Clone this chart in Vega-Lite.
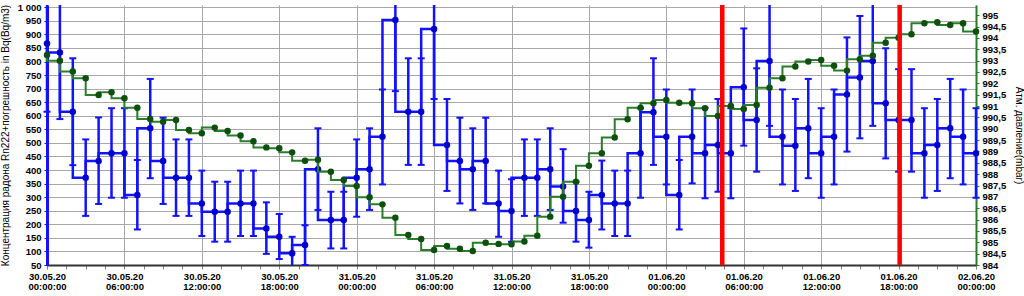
{
  "$schema": "https://vega.github.io/schema/vega-lite/v6.json",
  "width": 929,
  "height": 260,
  "autosize": {"type": "none"},
  "padding": {"left": 47, "top": 5, "right": 48, "bottom": 31},
  "background": "white",
  "config": {
    "font": "Liberation Sans",
    "view": {"stroke": null},
    "axisLeft": {
      "labelFont": "Liberation Sans",
      "labelFontWeight": "bold",
      "labelFontSize": 9.5,
      "labelColor": "#000000",
      "labelPadding": 3,
      "labelOverlap": false,
      "labelBound": false,
      "labelFlush": false,
      "tickSize": 3,
      "tickColor": "#1212ff",
      "tickWidth": 1,
      "domainColor": "#1212ff",
      "domainWidth": 3,
      "grid": true,
      "gridColor": "#a8a8a8",
      "gridWidth": 1,
      "titleFont": "Liberation Sans",
      "titleFontWeight": "normal",
      "titleFontSize": 10,
      "titleColor": "#000000",
      "titleAngle": 270,
      "titleX": -42,
      "titleY": 130,
      "titleAlign": "center",
      "titleBaseline": "middle"
    }
  },
  "datasets": {
    "radon": [
      {"t": "2020-05-30T00:00", "v": 867, "lo": 615, "hi": 1119},
      {"t": "2020-05-30T01:00", "v": 833, "lo": 588, "hi": 1078},
      {"t": "2020-05-30T02:00", "v": 615, "lo": 418, "hi": 812},
      {"t": "2020-05-30T03:00", "v": 372, "lo": 231, "hi": 513},
      {"t": "2020-05-30T04:00", "v": 433, "lo": 275, "hi": 594},
      {"t": "2020-05-30T05:00", "v": 462, "lo": 298, "hi": 628},
      {"t": "2020-05-30T06:00", "v": 462, "lo": 298, "hi": 628},
      {"t": "2020-05-30T07:00", "v": 308, "lo": 181, "hi": 437},
      {"t": "2020-05-30T08:00", "v": 554, "lo": 370, "hi": 736},
      {"t": "2020-05-30T09:00", "v": 433, "lo": 275, "hi": 593},
      {"t": "2020-05-30T10:00", "v": 372, "lo": 231, "hi": 513},
      {"t": "2020-05-30T11:00", "v": 372, "lo": 231, "hi": 513},
      {"t": "2020-05-30T12:00", "v": 277, "lo": 157, "hi": 398},
      {"t": "2020-05-30T13:00", "v": 246, "lo": 136, "hi": 357},
      {"t": "2020-05-30T14:00", "v": 246, "lo": 136, "hi": 357},
      {"t": "2020-05-30T15:00", "v": 277, "lo": 157, "hi": 398},
      {"t": "2020-05-30T16:00", "v": 277, "lo": 157, "hi": 398},
      {"t": "2020-05-30T17:00", "v": 185, "lo": 91, "hi": 281},
      {"t": "2020-05-30T18:00", "v": 154, "lo": 72, "hi": 238},
      {"t": "2020-05-30T19:00", "v": 93, "lo": 31, "hi": 154},
      {"t": "2020-05-30T20:00", "v": 124, "lo": 50, "hi": 197},
      {"t": "2020-05-30T21:00", "v": 403, "lo": 253, "hi": 554},
      {"t": "2020-05-30T22:00", "v": 216, "lo": 111, "hi": 320},
      {"t": "2020-05-30T23:00", "v": 216, "lo": 111, "hi": 320},
      {"t": "2020-05-31T00:00", "v": 372, "lo": 228, "hi": 513},
      {"t": "2020-05-31T01:00", "v": 403, "lo": 253, "hi": 554},
      {"t": "2020-05-31T02:00", "v": 523, "lo": 347, "hi": 697},
      {"t": "2020-05-31T03:00", "v": 953, "lo": 691, "hi": 1215},
      {"t": "2020-05-31T04:00", "v": 615, "lo": 419, "hi": 812},
      {"t": "2020-05-31T05:00", "v": 615, "lo": 419, "hi": 812},
      {"t": "2020-05-31T06:00", "v": 920, "lo": 662, "hi": 1178},
      {"t": "2020-05-31T07:00", "v": 492, "lo": 323, "hi": 662},
      {"t": "2020-05-31T08:00", "v": 433, "lo": 277, "hi": 593},
      {"t": "2020-05-31T09:00", "v": 403, "lo": 253, "hi": 554},
      {"t": "2020-05-31T10:00", "v": 433, "lo": 277, "hi": 593},
      {"t": "2020-05-31T11:00", "v": 277, "lo": 154, "hi": 398},
      {"t": "2020-05-31T12:00", "v": 249, "lo": 136, "hi": 366},
      {"t": "2020-05-31T13:00", "v": 372, "lo": 231, "hi": 513},
      {"t": "2020-05-31T14:00", "v": 372, "lo": 231, "hi": 513},
      {"t": "2020-05-31T15:00", "v": 403, "lo": 253, "hi": 554},
      {"t": "2020-05-31T16:00", "v": 339, "lo": 206, "hi": 477},
      {"t": "2020-05-31T17:00", "v": 249, "lo": 136, "hi": 357},
      {"t": "2020-05-31T18:00", "v": 216, "lo": 114, "hi": 320},
      {"t": "2020-05-31T19:00", "v": 308, "lo": 181, "hi": 435},
      {"t": "2020-05-31T20:00", "v": 277, "lo": 157, "hi": 398},
      {"t": "2020-05-31T21:00", "v": 277, "lo": 157, "hi": 398},
      {"t": "2020-05-31T22:00", "v": 462, "lo": 298, "hi": 628},
      {"t": "2020-05-31T23:00", "v": 613, "lo": 419, "hi": 812},
      {"t": "2020-06-01T00:00", "v": 523, "lo": 347, "hi": 697},
      {"t": "2020-06-01T01:00", "v": 308, "lo": 181, "hi": 437},
      {"t": "2020-06-01T02:00", "v": 523, "lo": 351, "hi": 697},
      {"t": "2020-06-01T03:00", "v": 462, "lo": 296, "hi": 630},
      {"t": "2020-06-01T04:00", "v": 492, "lo": 320, "hi": 662},
      {"t": "2020-06-01T05:00", "v": 462, "lo": 296, "hi": 628},
      {"t": "2020-06-01T06:00", "v": 705, "lo": 490, "hi": 922},
      {"t": "2020-06-01T07:00", "v": 585, "lo": 394, "hi": 775},
      {"t": "2020-06-01T08:00", "v": 802, "lo": 563, "hi": 1042},
      {"t": "2020-06-01T09:00", "v": 523, "lo": 347, "hi": 697},
      {"t": "2020-06-01T10:00", "v": 490, "lo": 323, "hi": 662},
      {"t": "2020-06-01T11:00", "v": 554, "lo": 370, "hi": 736},
      {"t": "2020-06-01T12:00", "v": 462, "lo": 298, "hi": 628},
      {"t": "2020-06-01T13:00", "v": 523, "lo": 347, "hi": 697},
      {"t": "2020-06-01T14:00", "v": 679, "lo": 468, "hi": 889},
      {"t": "2020-06-01T15:00", "v": 741, "lo": 517, "hi": 968},
      {"t": "2020-06-01T16:00", "v": 802, "lo": 563, "hi": 1042},
      {"t": "2020-06-01T17:00", "v": 646, "lo": 443, "hi": 849},
      {"t": "2020-06-01T18:00", "v": 585, "lo": 394, "hi": 772},
      {"t": "2020-06-01T19:00", "v": 585, "lo": 394, "hi": 772},
      {"t": "2020-06-01T20:00", "v": 462, "lo": 298, "hi": 628},
      {"t": "2020-06-01T21:00", "v": 492, "lo": 323, "hi": 662},
      {"t": "2020-06-01T22:00", "v": 554, "lo": 370, "hi": 736},
      {"t": "2020-06-01T23:00", "v": 523, "lo": 347, "hi": 697},
      {"t": "2020-06-02T00:00", "v": 462, "lo": 298, "hi": 628}
    ],
    "pressure": [
      {"t": "2020-05-30T00:00", "p": 993.25},
      {"t": "2020-05-30T01:00", "p": 993.0},
      {"t": "2020-05-30T02:00", "p": 992.52},
      {"t": "2020-05-30T03:00", "p": 992.22},
      {"t": "2020-05-30T04:00", "p": 991.49},
      {"t": "2020-05-30T05:00", "p": 991.61},
      {"t": "2020-05-30T06:00", "p": 991.34},
      {"t": "2020-05-30T07:00", "p": 990.93},
      {"t": "2020-05-30T08:00", "p": 990.43},
      {"t": "2020-05-30T09:00", "p": 990.31},
      {"t": "2020-05-30T10:00", "p": 990.39},
      {"t": "2020-05-30T11:00", "p": 989.95},
      {"t": "2020-05-30T12:00", "p": 989.80},
      {"t": "2020-05-30T13:00", "p": 990.05},
      {"t": "2020-05-30T14:00", "p": 989.90},
      {"t": "2020-05-30T15:00", "p": 989.70},
      {"t": "2020-05-30T16:00", "p": 989.45},
      {"t": "2020-05-30T17:00", "p": 989.18},
      {"t": "2020-05-30T18:00", "p": 989.14},
      {"t": "2020-05-30T19:00", "p": 988.96},
      {"t": "2020-05-30T20:00", "p": 988.59},
      {"t": "2020-05-30T21:00", "p": 988.63},
      {"t": "2020-05-30T22:00", "p": 988.11},
      {"t": "2020-05-30T23:00", "p": 987.74},
      {"t": "2020-05-31T00:00", "p": 987.48},
      {"t": "2020-05-31T01:00", "p": 986.98},
      {"t": "2020-05-31T02:00", "p": 986.67},
      {"t": "2020-05-31T03:00", "p": 986.08},
      {"t": "2020-05-31T04:00", "p": 985.32},
      {"t": "2020-05-31T05:00", "p": 985.15},
      {"t": "2020-05-31T06:00", "p": 984.66},
      {"t": "2020-05-31T07:00", "p": 984.84},
      {"t": "2020-05-31T08:00", "p": 984.72},
      {"t": "2020-05-31T09:00", "p": 984.62},
      {"t": "2020-05-31T10:00", "p": 984.98},
      {"t": "2020-05-31T11:00", "p": 984.93},
      {"t": "2020-05-31T12:00", "p": 984.91},
      {"t": "2020-05-31T13:00", "p": 985.03},
      {"t": "2020-05-31T14:00", "p": 985.29},
      {"t": "2020-05-31T15:00", "p": 986.13},
      {"t": "2020-05-31T16:00", "p": 987.01},
      {"t": "2020-05-31T17:00", "p": 987.67},
      {"t": "2020-05-31T18:00", "p": 988.37},
      {"t": "2020-05-31T19:00", "p": 988.92},
      {"t": "2020-05-31T20:00", "p": 989.61},
      {"t": "2020-05-31T21:00", "p": 990.42},
      {"t": "2020-05-31T22:00", "p": 990.93},
      {"t": "2020-05-31T23:00", "p": 991.12},
      {"t": "2020-06-01T00:00", "p": 991.27},
      {"t": "2020-06-01T01:00", "p": 991.15},
      {"t": "2020-06-01T02:00", "p": 991.12},
      {"t": "2020-06-01T03:00", "p": 990.90},
      {"t": "2020-06-01T04:00", "p": 990.56},
      {"t": "2020-06-01T05:00", "p": 991.00},
      {"t": "2020-06-01T06:00", "p": 990.87},
      {"t": "2020-06-01T07:00", "p": 991.05},
      {"t": "2020-06-01T08:00", "p": 991.81},
      {"t": "2020-06-01T09:00", "p": 992.22},
      {"t": "2020-06-01T10:00", "p": 992.74},
      {"t": "2020-06-01T11:00", "p": 992.96},
      {"t": "2020-06-01T12:00", "p": 993.03},
      {"t": "2020-06-01T13:00", "p": 992.78},
      {"t": "2020-06-01T14:00", "p": 992.56},
      {"t": "2020-06-01T15:00", "p": 993.06},
      {"t": "2020-06-01T16:00", "p": 993.21},
      {"t": "2020-06-01T17:00", "p": 993.79},
      {"t": "2020-06-01T18:00", "p": 994.01},
      {"t": "2020-06-01T19:00", "p": 994.16},
      {"t": "2020-06-01T20:00", "p": 994.65},
      {"t": "2020-06-01T21:00", "p": 994.69},
      {"t": "2020-06-01T22:00", "p": 994.57},
      {"t": "2020-06-01T23:00", "p": 994.65},
      {"t": "2020-06-02T00:00", "p": 994.28}
    ],
    "events": [
      {"t": "2020-06-01T04:20"},
      {"t": "2020-06-01T18:05"}
    ]
  },
  "encoding": {
    "x": {
      "field": "t",
      "type": "temporal",
      "scale": {"domain": [{"year": 2020, "month": 5, "date": 30}, {"year": 2020, "month": 6, "date": 2}], "nice": false},
      "axis": {
        "title": null,
        "values": [
          {"year": 2020, "month": 5, "date": 30, "hours": 0, "minutes": 0},
          {"year": 2020, "month": 5, "date": 30, "hours": 1, "minutes": 30},
          {"year": 2020, "month": 5, "date": 30, "hours": 3, "minutes": 0},
          {"year": 2020, "month": 5, "date": 30, "hours": 4, "minutes": 30},
          {"year": 2020, "month": 5, "date": 30, "hours": 6, "minutes": 0},
          {"year": 2020, "month": 5, "date": 30, "hours": 7, "minutes": 30},
          {"year": 2020, "month": 5, "date": 30, "hours": 9, "minutes": 0},
          {"year": 2020, "month": 5, "date": 30, "hours": 10, "minutes": 30},
          {"year": 2020, "month": 5, "date": 30, "hours": 12, "minutes": 0},
          {"year": 2020, "month": 5, "date": 30, "hours": 13, "minutes": 30},
          {"year": 2020, "month": 5, "date": 30, "hours": 15, "minutes": 0},
          {"year": 2020, "month": 5, "date": 30, "hours": 16, "minutes": 30},
          {"year": 2020, "month": 5, "date": 30, "hours": 18, "minutes": 0},
          {"year": 2020, "month": 5, "date": 30, "hours": 19, "minutes": 30},
          {"year": 2020, "month": 5, "date": 30, "hours": 21, "minutes": 0},
          {"year": 2020, "month": 5, "date": 30, "hours": 22, "minutes": 30},
          {"year": 2020, "month": 5, "date": 31, "hours": 0, "minutes": 0},
          {"year": 2020, "month": 5, "date": 31, "hours": 1, "minutes": 30},
          {"year": 2020, "month": 5, "date": 31, "hours": 3, "minutes": 0},
          {"year": 2020, "month": 5, "date": 31, "hours": 4, "minutes": 30},
          {"year": 2020, "month": 5, "date": 31, "hours": 6, "minutes": 0},
          {"year": 2020, "month": 5, "date": 31, "hours": 7, "minutes": 30},
          {"year": 2020, "month": 5, "date": 31, "hours": 9, "minutes": 0},
          {"year": 2020, "month": 5, "date": 31, "hours": 10, "minutes": 30},
          {"year": 2020, "month": 5, "date": 31, "hours": 12, "minutes": 0},
          {"year": 2020, "month": 5, "date": 31, "hours": 13, "minutes": 30},
          {"year": 2020, "month": 5, "date": 31, "hours": 15, "minutes": 0},
          {"year": 2020, "month": 5, "date": 31, "hours": 16, "minutes": 30},
          {"year": 2020, "month": 5, "date": 31, "hours": 18, "minutes": 0},
          {"year": 2020, "month": 5, "date": 31, "hours": 19, "minutes": 30},
          {"year": 2020, "month": 5, "date": 31, "hours": 21, "minutes": 0},
          {"year": 2020, "month": 5, "date": 31, "hours": 22, "minutes": 30},
          {"year": 2020, "month": 6, "date": 1, "hours": 0, "minutes": 0},
          {"year": 2020, "month": 6, "date": 1, "hours": 1, "minutes": 30},
          {"year": 2020, "month": 6, "date": 1, "hours": 3, "minutes": 0},
          {"year": 2020, "month": 6, "date": 1, "hours": 4, "minutes": 30},
          {"year": 2020, "month": 6, "date": 1, "hours": 6, "minutes": 0},
          {"year": 2020, "month": 6, "date": 1, "hours": 7, "minutes": 30},
          {"year": 2020, "month": 6, "date": 1, "hours": 9, "minutes": 0},
          {"year": 2020, "month": 6, "date": 1, "hours": 10, "minutes": 30},
          {"year": 2020, "month": 6, "date": 1, "hours": 12, "minutes": 0},
          {"year": 2020, "month": 6, "date": 1, "hours": 13, "minutes": 30},
          {"year": 2020, "month": 6, "date": 1, "hours": 15, "minutes": 0},
          {"year": 2020, "month": 6, "date": 1, "hours": 16, "minutes": 30},
          {"year": 2020, "month": 6, "date": 1, "hours": 18, "minutes": 0},
          {"year": 2020, "month": 6, "date": 1, "hours": 19, "minutes": 30},
          {"year": 2020, "month": 6, "date": 1, "hours": 21, "minutes": 0},
          {"year": 2020, "month": 6, "date": 1, "hours": 22, "minutes": 30},
          {"year": 2020, "month": 6, "date": 2, "hours": 0, "minutes": 0}
        ],
        "labelExpr": "minutes(datum.value) == 0 && hours(datum.value) % 6 == 0 ? [timeFormat(datum.value, '%d.%m.%y'), timeFormat(datum.value, '%H:%M:%S')] : ''",
        "labelFont": "Liberation Sans",
        "labelFontWeight": "bold",
        "labelFontSize": 9.5,
        "labelColor": "#000000",
        "labelLineHeight": 10,
        "labelPadding": 2,
        "labelOverlap": false,
        "labelFlush": false,
        "labelBound": false,
        "tickSize": 4,
        "tickColor": "#7f7f7f",
        "tickWidth": 1,
        "domainColor": "#333333",
        "domainWidth": 2,
        "grid": true,
        "gridColor": "#a8a8a8",
        "gridWidth": 1,
        "gridOpacity": {"condition": {"test": "minutes(datum.value) == 0 && hours(datum.value) % 6 == 0", "value": 1}, "value": 0}
      }
    }
  },
  "layer": [
    {
      "data": {"name": "radon"},
      "layer": [
        {
          "mark": {"type": "rule", "color": "#1212ff", "strokeWidth": 2.5},
          "encoding": {
            "y": {
              "field": "lo",
              "type": "quantitative",
              "scale": {"domain": [50, 1008.5], "nice": false, "zero": false, "clamp": true},
              "axis": {
                "orient": "left",
                "values": [50, 100, 150, 200, 250, 300, 350, 400, 450, 500, 550, 600, 650, 700, 750, 800, 850, 900, 950, 1000],
                "labelExpr": "replace(format(datum.value, ','), ',', ' ')",
                "title": "Концентрация радона Rn222+погрешность in Bq(Bq/m3)"
              }
            },
            "y2": {"field": "hi"}
          }
        },
        {
          "transform": [{"filter": "datum.lo >= 50"}],
          "mark": {"type": "tick", "orient": "horizontal", "color": "#1212ff", "size": 7, "thickness": 2, "opacity": 1},
          "encoding": {
            "y": {
              "field": "lo",
              "type": "quantitative",
              "scale": {"domain": [50, 1008.5], "nice": false, "zero": false, "clamp": true},
              "axis": {
                "orient": "left",
                "values": [50, 100, 150, 200, 250, 300, 350, 400, 450, 500, 550, 600, 650, 700, 750, 800, 850, 900, 950, 1000],
                "labelExpr": "replace(format(datum.value, ','), ',', ' ')",
                "title": "Концентрация радона Rn222+погрешность in Bq(Bq/m3)"
              }
            }
          }
        },
        {
          "transform": [{"filter": "datum.hi <= 1005"}],
          "mark": {"type": "tick", "orient": "horizontal", "color": "#1212ff", "size": 7, "thickness": 2, "opacity": 1},
          "encoding": {
            "y": {
              "field": "hi",
              "type": "quantitative",
              "scale": {"domain": [50, 1008.5], "nice": false, "zero": false, "clamp": true},
              "axis": {
                "orient": "left",
                "values": [50, 100, 150, 200, 250, 300, 350, 400, 450, 500, 550, 600, 650, 700, 750, 800, 850, 900, 950, 1000],
                "labelExpr": "replace(format(datum.value, ','), ',', ' ')",
                "title": "Концентрация радона Rn222+погрешность in Bq(Bq/m3)"
              }
            }
          }
        },
        {
          "mark": {"type": "line", "color": "#1212ff", "strokeWidth": 2.5, "interpolate": "step-before"},
          "encoding": {
            "y": {
              "field": "v",
              "type": "quantitative",
              "scale": {"domain": [50, 1008.5], "nice": false, "zero": false, "clamp": true},
              "axis": {
                "orient": "left",
                "values": [50, 100, 150, 200, 250, 300, 350, 400, 450, 500, 550, 600, 650, 700, 750, 800, 850, 900, 950, 1000],
                "labelExpr": "replace(format(datum.value, ','), ',', ' ')",
                "title": "Концентрация радона Rn222+погрешность in Bq(Bq/m3)"
              }
            }
          }
        },
        {
          "mark": {"type": "point", "filled": true, "color": "#0000cc", "size": 42, "opacity": 1},
          "encoding": {
            "y": {
              "field": "v",
              "type": "quantitative",
              "scale": {"domain": [50, 1008.5], "nice": false, "zero": false, "clamp": true},
              "axis": {
                "orient": "left",
                "values": [50, 100, 150, 200, 250, 300, 350, 400, 450, 500, 550, 600, 650, 700, 750, 800, 850, 900, 950, 1000],
                "labelExpr": "replace(format(datum.value, ','), ',', ' ')",
                "title": "Концентрация радона Rn222+погрешность in Bq(Bq/m3)"
              }
            }
          }
        }
      ]
    },
    {
      "data": {"name": "pressure"},
      "encoding": {
        "y": {
          "field": "p",
          "type": "quantitative",
          "scale": {"domain": [984, 995.45], "nice": false, "zero": false},
          "axis": {
            "orient": "right",
            "values": [984, 984.5, 985, 985.5, 986, 986.5, 987, 987.5, 988, 988.5, 989, 989.5, 990, 990.5, 991, 991.5, 992, 992.5, 993, 993.5, 994, 994.5, 995],
            "labelExpr": "replace(format(datum.value, '.1~f'), '.', ',')",
            "labelFont": "Liberation Sans",
            "labelFontWeight": "bold",
            "labelFontSize": 9.5,
            "labelColor": "#000000",
            "labelPadding": 3,
            "labelOverlap": false,
            "labelBound": false,
            "labelFlush": false,
            "tickSize": 3,
            "tickColor": "#2a7a2a",
            "domainColor": "#2a7a2a",
            "domainWidth": 2,
            "grid": false,
            "title": "Атм. давление(mbar)",
            "titleFont": "Liberation Sans",
            "titleFontWeight": "normal",
            "titleFontSize": 10,
            "titleColor": "#000000",
            "titleAngle": 90,
            "titleX": 42,
            "titleY": 130,
            "titleAlign": "center",
            "titleBaseline": "middle"
          }
        }
      },
      "layer": [
        {"mark": {"type": "line", "color": "#2a7d2a", "strokeWidth": 2, "interpolate": "step-before"}},
        {"mark": {"type": "point", "filled": true, "color": "#0d4f0d", "size": 42, "opacity": 1}}
      ]
    },
    {
      "data": {"name": "events"},
      "mark": {"type": "rule", "color": "#ff0000", "strokeWidth": 4.5},
      "encoding": {}
    }
  ],
  "resolve": {"scale": {"y": "independent"}, "axis": {"y": "independent"}}
}
